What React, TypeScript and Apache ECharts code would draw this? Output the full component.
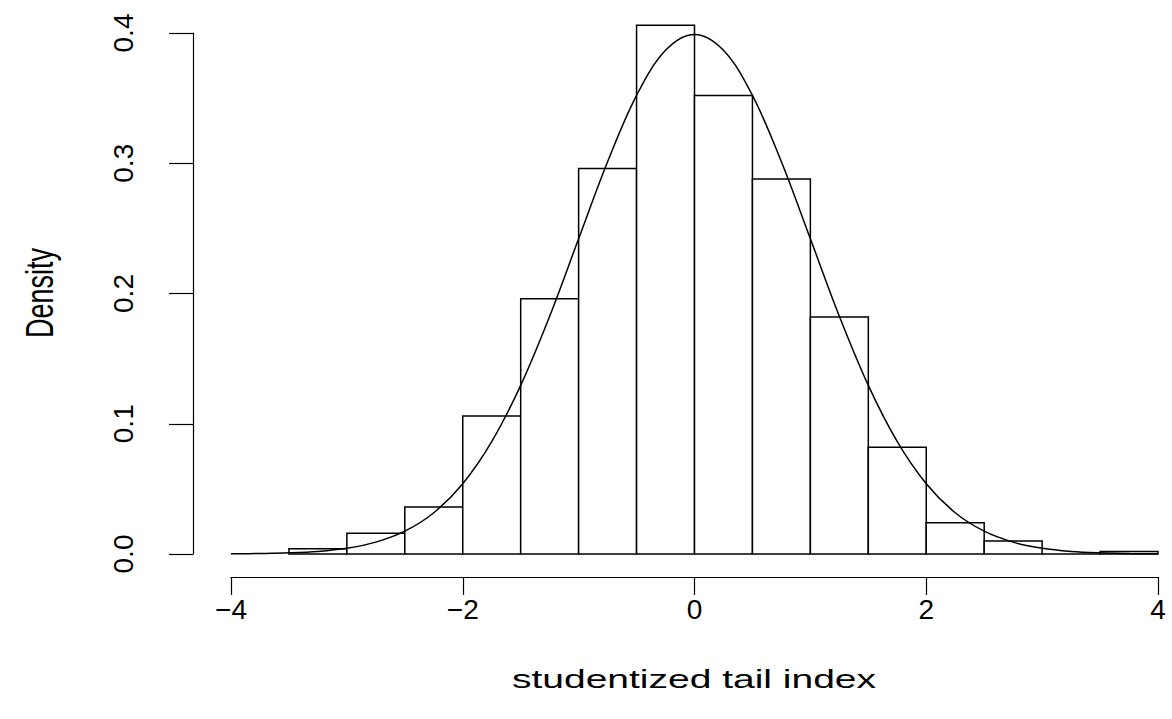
import React, { useEffect, useRef } from "react";
import * as echarts from "echarts";

// Histogram bin edges and densities (n = 1000, bin width 0.5)
const binBreaks = [-3.5, -3, -2.5, -2, -1.5, -1, -0.5, 0, 0.5, 1, 1.5, 2, 2.5, 3, 3.5, 4];
const densities = [0.004, 0.016, 0.036, 0.106, 0.196, 0.296, 0.406, 0.352, 0.288, 0.182, 0.082, 0.024, 0.010, 0.0, 0.002];

// Overlaid density curve
const curveX = [-4, -3.75, -3.5, -3.25, -3, -2.75, -2.5, -2.25, -2, -1.75, -1.5, -1.25, -1, -0.75, -0.5, -0.25, 0,
  0.25, 0.5, 0.75, 1, 1.25, 1.5, 1.75, 2, 2.25, 2.5, 2.75, 3, 3.25, 3.5, 3.75, 4];
const curveY = [0.0001, 0.0004, 0.0009, 0.002, 0.0044, 0.0091, 0.0175, 0.0317, 0.054, 0.0863, 0.1295, 0.1826, 0.242, 0.3011, 0.3521, 0.3867, 0.3989,
  0.3867, 0.3521, 0.3011, 0.242, 0.1826, 0.1295, 0.0863, 0.054, 0.0317, 0.0175, 0.0091, 0.0044, 0.002, 0.0009, 0.0004, 0.0001];

// Axis ticks and labels
const xTicks = [-4, -2, 0, 2, 4];
const xTickLabels = ["\u22124", "\u22122", "0", "2", "4"];
const yTicks = [0, 0.1, 0.2, 0.3, 0.4];
const yTickLabels = ["0.0", "0.1", "0.2", "0.3", "0.4"];

const xTitle = "studentized tail index";
const yTitle = "Density";

const FONT = '"Liberation Sans", Arial, Helvetica, sans-serif';

export default function App() {
  const ref = useRef<HTMLDivElement>(null);

  useEffect(() => {
    if (!ref.current) return;
    const chart = echarts.init(ref.current, undefined, { renderer: "svg" });

    const histData = densities.map((d, i) => [binBreaks[i], binBreaks[i + 1], d]);
    const curveData = curveX.map((x, i) => [x, curveY[i]]);

    const option: any = {
      animation: false,
      backgroundColor: "#ffffff",
      grid: { left: 231, right: 14, top: 33, bottom: 165, containLabel: false },
      xAxis: {
        type: "value",
        min: xTicks[0],
        max: xTicks[xTicks.length - 1],
        interval: 2,
        offset: 23,
        axisLine: { show: true, onZero: false, lineStyle: { color: "#000", width: 1.2 } },
        axisTick: { show: true, length: 18, lineStyle: { color: "#000", width: 1.2 } },
        axisLabel: {
          color: "#000",
          fontSize: 28,
          fontFamily: FONT,
          margin: 18,
          formatter: (v: number) => {
            const i = xTicks.indexOf(v);
            return i >= 0 ? xTickLabels[i] : "";
          },
        },
        splitLine: { show: false },
      },
      yAxis: {
        type: "value",
        min: yTicks[0],
        max: yTicks[yTicks.length - 1],
        interval: 0.1,
        offset: 38,
        axisLine: { show: true, onZero: false, lineStyle: { color: "#000", width: 1.2 } },
        axisTick: { show: true, length: 24, lineStyle: { color: "#000", width: 1.2 } },
        axisLabel: {
          color: "#000",
          fontSize: 28,
          fontFamily: FONT,
          rotate: 90,
          margin: 56,
          formatter: (v: number) => {
            const i = yTicks.findIndex((t) => Math.abs(t - v) < 1e-9);
            return i >= 0 ? yTickLabels[i] : "";
          },
        },
        splitLine: { show: false },
      },
      series: [
        {
          type: "custom",
          clip: false,
          data: histData,
          encode: { x: [0, 1], y: 2 },
          renderItem: (params: any, api: any) => {
            const p0 = api.coord([api.value(0), 0]);
            const p1 = api.coord([api.value(1), api.value(2)]);
            return {
              type: "rect",
              shape: { x: p0[0], y: p1[1], width: p1[0] - p0[0], height: Math.max(p0[1] - p1[1], 0.01) },
              style: { fill: "#ffffff", stroke: "#000000", lineWidth: 1.5 },
            };
          },
          z: 2,
        },
        {
          type: "line",
          data: curveData,
          showSymbol: false,
          symbol: "none",
          smooth: 0.35,
          clip: false,
          lineStyle: { color: "#000", width: 1.5 },
          z: 3,
        },
      ],
      graphic: [
        {
          type: "text",
          x: 694,
          y: 679,
          scaleX: 1.5,
          style: {
            text: xTitle,
            fontSize: 26,
            fontFamily: FONT,
            fill: "#000",
            align: "center",
            verticalAlign: "middle",
          },
        },
        {
          type: "group",
          x: 40,
          y: 293,
          scaleX: 1.45,
          children: [
            {
              type: "text",
              x: 0,
              y: 0,
              rotation: Math.PI / 2,
              style: {
                text: yTitle,
                fontSize: 27,
                fontFamily: FONT,
                fill: "#000",
                align: "center",
                verticalAlign: "middle",
              },
            },
          ],
        },
      ],
    };

    chart.setOption(option);
    return () => chart.dispose();
  }, []);

  return (
    <div
      ref={ref}
      style={{ position: "absolute", left: 0, top: 0, width: 1172, height: 719, background: "#fff" }}
    />
  );
}
